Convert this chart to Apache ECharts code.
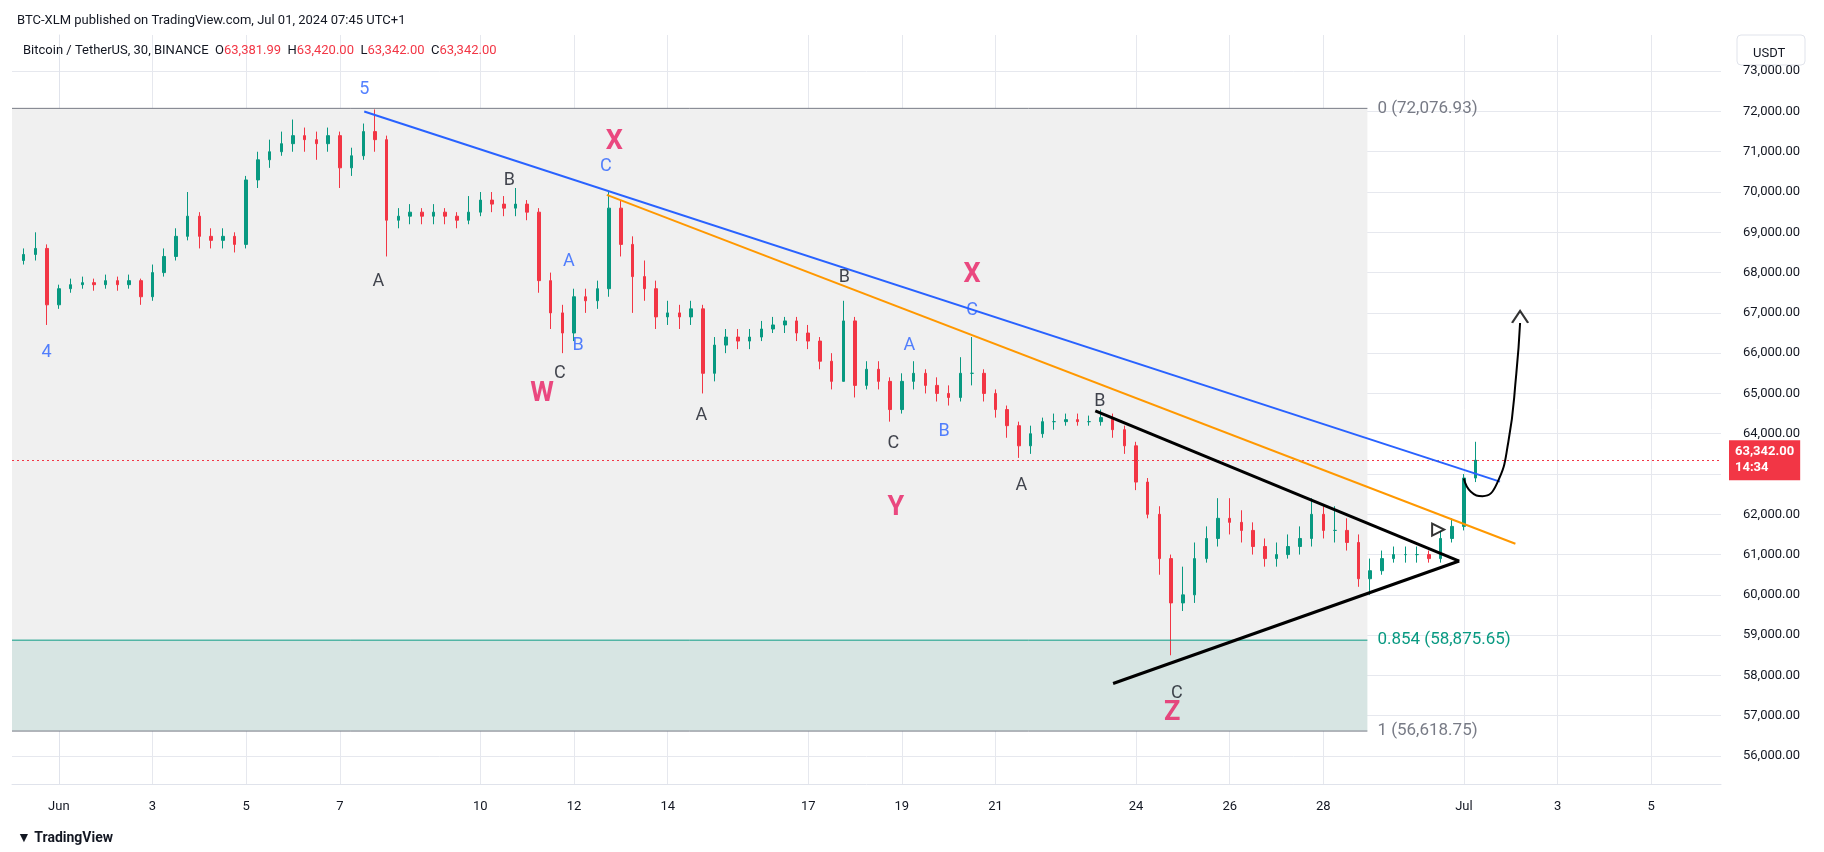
<!DOCTYPE html>
<html><head><meta charset="utf-8">
<script src="https://cdn.jsdelivr.net/npm/echarts@6/dist/echarts.min.js"></script>
<style>html,body{margin:0;padding:0;background:#fff}#c{width:1824px;height:852px}</style>
</head><body><div id="c"></div>
<script>
// 6-hour candles, time in days since Jun 1 00:00
const startDay = -0.75, step = 0.25;
const closes = [68450,68600,67200,67600,67700,67750,67700,67800,67700,67800,67400,68000,68400,68900,69400,68900,68800,68900,68700,70300,70800,71000,71200,71400,71300,71200,71400,70600,70900,71500,71300,69300,69400,69500,69400,69500,69400,69300,69500,69800,69700,69600,69700,69500,67800,67000,66500,67400,67300,67600,69600,68700,67900,67600,66900,67000,66900,67100,65500,66200,66400,66300,66400,66600,66700,66800,66500,66300,65800,65300,66800,65200,65600,65300,64600,65300,65500,65200,65000,64900,65500,65500,65000,64600,64200,63700,64000,64300,64300,64350,64300,64300,64400,64100,63700,62800,62000,60900,59800,60000,60900,61400,61900,61800,61600,61200,60900,61000,61200,61400,62000,61600,61600,61300,60400,60600,60900,61000,61000,61000,60900,61400,61700,62900,63342];
const highs = [68600,69000,68700,67700,67850,67900,67850,67950,67900,67950,67850,68200,68600,69100,70000,69500,69100,69100,69000,70400,71000,71300,71500,71800,71600,71500,71600,71500,71100,71700,72050,71400,69600,69700,69600,69700,69600,69500,69900,70000,70000,69900,70100,69800,69600,68000,67200,67600,67600,67800,70000,69800,68900,68300,67800,67300,67200,67300,67200,66400,66600,66600,66600,66800,66900,66900,66900,66700,66400,66000,67300,66900,65800,65800,65400,65500,65800,65600,65400,65200,65900,66400,65600,65100,64700,64300,64200,64400,64500,64500,64500,64450,64600,64500,64200,63800,62900,62200,61000,60700,61300,61700,62400,62400,62100,61800,61400,61300,61500,61700,62400,62200,62200,61900,61500,60900,61100,61200,61200,61200,61100,61600,61900,63000,63800];
const lows = [68200,68300,66700,67100,67500,67600,67550,67600,67550,67600,67200,67300,67900,68300,68800,68600,68600,68600,68500,68600,70100,70600,70900,71000,71000,70800,71000,70100,70400,70800,71000,68400,69100,69200,69200,69200,69200,69100,69200,69400,69500,69400,69400,69300,67500,66600,66000,66300,67000,67100,67400,68400,67000,67300,66600,66700,66600,66700,65000,65300,66000,66100,66100,66300,66500,66500,66300,66100,65600,65100,65300,64900,65100,65100,64300,64500,65100,65000,64800,64700,64800,65200,64800,64400,63900,63400,63500,63900,64100,64200,64200,64200,64200,63900,63500,62600,61900,60500,58500,59600,59800,60800,61200,61500,61300,61000,60700,60700,60900,61000,61200,61400,61300,61100,60200,60000,60500,60800,60800,60800,60800,60800,61300,61600,62800];
const firstOpen = 68300;

const xTicks = [0,2,4,6,9,11,13,16,18,20,23,25,27,30,32,34];
const yTicks = [56000,57000,58000,59000,60000,61000,62000,63000,64000,65000,66000,67000,68000,69000,70000,71000,72000,73000];

const fibLevels = [72076.93, 58875.65, 56618.75];
const fibNames = ['0 (72,076.93)', '0.854 (58,875.65)', '1 (56,618.75)'];
const fibColors = ['#787b86', '#089981', '#787b86'];
const fibEnd = 27.94;

const blueLine = [[6.52,72000],[30.77,62810]];
const orangeLine = [[11.7,69930],[31.1,61270]];
const blackUpper = [[22.13,64570],[29.9,60840]];
const blackLower = [[22.51,57800],[29.9,60840]];
const arrowPath = [[30.0,62890],[30.15,62560],[30.4,62450],[30.7,62750],[30.95,63800],[31.12,65500],[31.2,66750]];
const arrowTip = [31.2,66900];

const annText = ['5','4','A','B','A','B','C','W','C','X','A','B','X','C','A','B','C','Y','A','B','C','Z'];
const annDay = [6.52,-0.26,6.82,9.62,10.89,11.09,10.7,10.32,11.68,11.86,13.72,16.77,19.5,19.5,18.16,18.9,17.82,17.87,20.55,22.23,23.87,23.77];
const annPrice = [72540,66020,67790,70280,68280,66190,65500,64980,70630,71230,64460,67870,67930,67060,66200,64050,63760,62140,62720,64800,57560,57070];
const annKind = ['b','b','k','k','b','b','k','r','b','r','k','k','r','b','b','b','k','r','k','k','k','r'];

const lastPrice = 63342;

const candles = closes.map((c,i)=>[startDay+i*step, i===0?firstOpen:closes[i-1], c, lows[i], highs[i]]);
const kindStyle = {b:{color:'#2962ff',fontSize:18,fontWeight:'normal'},k:{color:'#131722',fontSize:18,fontWeight:'normal'},r:{color:'#e91e63',fontSize:27,fontWeight:'bold'}};
const annData = annText.map((t,i)=>({value:[annDay[i],annPrice[i]],label:Object.assign({show:true,position:'inside',formatter:t,fontFamily:'Roboto'},kindStyle[annKind[i]])}));

const X0=-1.0, X1=35.49, Y0=55305, Y1=73898;
const fmt = v=>v.toLocaleString('en-US',{minimumFractionDigits:2,maximumFractionDigits:2});

function seg(data,color,w){return {type:'line',data:data,symbol:'none',silent:true,lineStyle:{color:color,width:w},z:5,animation:false};}

const series = [
 {type:'candlestick',data:candles,encode:{x:0,y:[1,2,3,4]},barWidth:3,
  itemStyle:{color:'#089981',color0:'#f23645',borderColor:'#089981',borderColor0:'#f23645',borderWidth:1},
  markArea:{silent:true,data:[
    [{xAxis:X0,yAxis:fibLevels[0],itemStyle:{color:'#f0f0f0'}},{xAxis:fibEnd,yAxis:fibLevels[1]}],
    [{xAxis:X0,yAxis:fibLevels[1],itemStyle:{color:'#d7e5e3'}},{xAxis:fibEnd,yAxis:fibLevels[2]}]
  ]},
  markLine:{silent:true,symbol:'none',data:[{yAxis:lastPrice}],lineStyle:{color:'#f23645',type:[2,3],width:1},
    label:{position:'end',distance:8,formatter:fmt(lastPrice)+'\n14:34',backgroundColor:'#f23645',color:'#fff',padding:[4,6],fontSize:13,fontFamily:'Roboto',lineHeight:16,fontWeight:'bold'}},
  z:3,animation:false},
 seg(blueLine,'#2962ff',2),
 seg(orangeLine,'#ff9800',2),
 seg(blackUpper,'#000',3),
 seg(blackLower,'#000',3),
 {type:'line',data:arrowPath,smooth:0.5,symbol:'none',silent:true,lineStyle:{color:'#000',width:2},z:6,animation:false},
 {type:'scatter',data:[arrowTip],symbol:'path://M0,10 L6,0 L12,10',symbolSize:[16,12],itemStyle:{color:'none',borderColor:'#000',borderWidth:2},z:6,animation:false},
 {type:'scatter',data:[[29.45,61620]],symbol:'triangle',symbolRotate:-90,symbolSize:12,itemStyle:{color:'#fff',borderColor:'#000',borderWidth:2},z:6,animation:false},
 {type:'scatter',data:annData,symbolSize:0,z:7,animation:false}
];
fibLevels.forEach((lv,i)=>{
 series.push({type:'line',data:[[X0,lv],[fibEnd,lv]],symbol:'none',silent:true,animation:false,z:4,
  lineStyle:{color:fibColors[i],width:1},
  endLabel:{show:true,formatter:fibNames[i],color:fibColors[i],fontSize:17,fontFamily:'Roboto',distance:10}});
});

const chart = echarts.init(document.getElementById('c'));
chart.setOption({
 backgroundColor:'#fff',
 animation:false,
 textStyle:{fontFamily:'Roboto'},
 title:[
  {text:'BTC-XLM published on TradingView.com, Jul 01, 2024 07:45 UTC+1',left:12,top:9,textStyle:{fontSize:13,fontWeight:'normal',color:'#131722'}},
  {text:'Bitcoin / TetherUS, 30, BINANCE  {l|O}{r|63,381.99}  {l|H}{r|63,420.00}  {l|L}{r|63,342.00}  {l|C}{r|63,342.00}',left:18,top:39,
   textStyle:{fontSize:13,fontWeight:'normal',color:'#131722',rich:{l:{color:'#131722',fontSize:13},r:{color:'#f23645',fontSize:13}}}},
  {text:'USDT',left:1748,top:42,textStyle:{fontSize:13,fontWeight:'normal',color:'#131722'}},
  {text:'▼ TradingView',left:12,top:826,textStyle:{fontSize:14,fontWeight:'bold',color:'#131722'}}
 ],
 graphic:[{type:'rect',shape:{x:1737,y:35,width:68,height:30,r:4},style:{fill:'none',stroke:'#e0e3eb',lineWidth:1}}],
 grid:{left:12,right:103,top:35,bottom:68},
 xAxis:{type:'value',min:X0,max:X1,
  axisLine:{show:true,lineStyle:{color:'#e0e3eb'}},
  axisTick:{show:false,customValues:xTicks},
  splitLine:{show:true,lineStyle:{color:'#e6e8ee'}},
  axisLabel:{customValues:xTicks,color:'#131722',fontSize:13,margin:16,
   formatter:v=>v===0?'Jun':(v===30?'Jul':String(v<30?v+1:v-29))}},
 yAxis:{type:'value',position:'right',min:Y0,max:Y1,
  axisLine:{show:true,lineStyle:{color:'#e0e3eb'}},
  axisTick:{show:false,customValues:yTicks},
  splitLine:{show:true,lineStyle:{color:'#e6e8ee'}},
  axisLabel:{customValues:yTicks,color:'#131722',fontSize:13,margin:22,formatter:v=>fmt(v)}},
 series:series
});
</script></body></html>
